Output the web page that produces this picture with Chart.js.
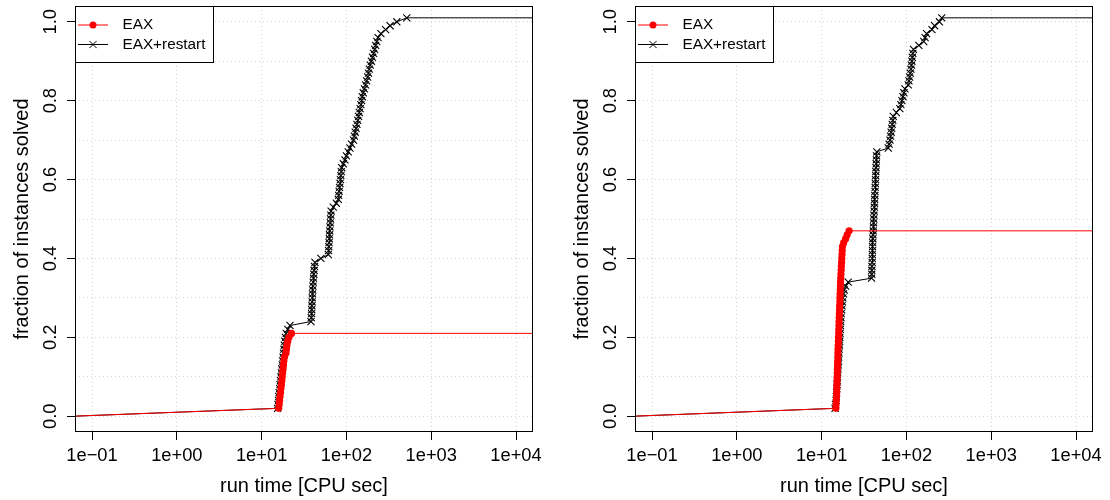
<!DOCTYPE html>
<html>
<head>
<meta charset="utf-8">
<script src="https://cdn.jsdelivr.net/npm/chart.js@4.4.0/dist/chart.umd.min.js"></script>
<style>
  html, body { margin: 0; padding: 0; background: #fff; overflow: hidden; }
  #wrap { position: relative; width: 1110px; height: 500px; }
  #wrap canvas { position: absolute; top: 0; }
</style>
</head>
<body>
<div id="wrap">
  <canvas id="panelA" width="555" height="500" style="left:0"></canvas>
  <canvas id="panelB" width="550" height="500" style="left:560px"></canvas>
</div>
<script>
// ---- data (run time in CPU sec, fraction of instances solved) ----
const seriesNames = ['EAX', 'EAX+restart'];

// left panel
const eaxTimeA = [0.06, 15.9, 16.1, 16.3, 16.5, 16.7, 16.9, 17.1, 17.3, 17.5, 17.7,
  17.9, 18.1, 18.3, 18.6, 19.4, 19.6, 19.9, 20.3, 21.0, 22.5, 16000];
const eaxFracA = [0, 0.02, 0.03, 0.04, 0.05, 0.06, 0.07, 0.08, 0.09, 0.10, 0.11,
  0.12, 0.13, 0.14, 0.15, 0.16, 0.17, 0.18, 0.19, 0.20, 0.21, 0.21];

const restartTimeA = [0.06,
  15.4, 15.6, 15.8, 15.9, 16.1, 16.3, 16.5, 16.7, 16.9, 17.1, 17.3, 17.5, 17.7, 17.9, 18.1,
  18.3, 18.5, 18.8, 19.1, 19.5, 20.4, 21.6,
  38.2, 38.5, 38.8, 39.0, 39.2, 39.4, 39.6, 39.8, 40.0, 40.3, 40.6, 40.9, 41.2, 41.6, 42.0, 42.6,
  50, 61.1,
  61.6, 62.0, 62.4, 62.8, 63.2, 63.6, 64.0, 64.5, 65.0, 65.5, 66.0,
  70, 76, 80.2, 81, 82, 83, 84, 85, 86, 87, 88,
  92, 96, 100, 105, 110, 115, 121,
  124, 127, 130, 133, 136, 139, 142, 145, 148, 151, 154,
  158, 163, 168, 173, 178, 182, 186, 191, 197, 203, 209, 215, 221, 228, 236,
  255, 290, 327, 393, 515,
  16000];

// right panel
const eaxTimeB = [0.06,
  14.7, 14.8, 14.9, 15.0, 15.05, 15.1, 15.15, 15.2, 15.25, 15.3, 15.35, 15.4, 15.45, 15.5,
  15.55, 15.6, 15.7, 15.75, 15.8, 15.9, 15.95, 16.0, 16.05, 16.1, 16.2, 16.25, 16.3, 16.4,
  16.45, 16.5, 16.6, 16.65, 16.7, 16.8, 16.9, 17.0, 17.1, 17.2, 17.3, 17.4, 17.5, 17.6,
  18.2, 19.2, 20.0, 21.1,
  16000];
const eaxFracB = [0,
  0.02, 0.03, 0.04, 0.05, 0.06, 0.07, 0.08, 0.09, 0.10, 0.11, 0.12, 0.13, 0.14, 0.15,
  0.16, 0.17, 0.18, 0.19, 0.20, 0.21, 0.22, 0.23, 0.24, 0.25, 0.26, 0.27, 0.28, 0.29,
  0.30, 0.31, 0.32, 0.33, 0.34, 0.35, 0.36, 0.37, 0.38, 0.39, 0.40, 0.41, 0.42, 0.43,
  0.44, 0.45, 0.46, 0.47,
  0.47];

const restartTimeB = [0.06,
  14.4, 14.6, 14.8, 14.9, 15.0, 15.1, 15.2, 15.3, 15.4, 15.5, 15.6, 15.7, 15.8, 15.9, 16.0,
  16.1, 16.2, 16.3, 16.4, 16.5, 16.6, 16.7, 16.8, 16.9, 17.0, 17.2, 17.4, 17.6, 17.8, 18.1,
  18.5, 19.2, 20.6,
  38.8, 39.0, 39.1, 39.2, 39.4, 39.5, 39.6, 39.8, 39.9, 40.0, 40.2, 40.4, 40.6, 40.8, 41.0,
  41.2, 41.4, 41.6, 41.8, 42.0, 42.2, 42.4, 42.6, 42.8, 43.0, 43.2, 43.4, 43.6, 43.8, 44.0,
  44.2, 44.4, 44.8,
  61.0, 62.5, 64.0, 65.0, 66.0, 67.0, 68.0, 69.0, 70.0,
  76, 83.7, 86, 88.5, 91, 93.5, 96,
  105, 107, 109, 111, 113, 114.5, 116, 117.5, 119, 121,
  140, 160, 166, 173, 200, 215, 245, 261,
  16000];

// both restart curves share the same fraction steps
const restartFrac = [0,
  0.02, 0.03, 0.04, 0.05, 0.06, 0.07, 0.08, 0.09, 0.10, 0.11, 0.12, 0.13, 0.14, 0.15, 0.16,
  0.17, 0.18, 0.19, 0.20, 0.21, 0.22, 0.23, 0.24, 0.25, 0.26, 0.27, 0.28, 0.29, 0.30, 0.31,
  0.32, 0.33, 0.34, 0.35, 0.36, 0.37, 0.38, 0.39, 0.40, 0.41, 0.42, 0.43, 0.44, 0.45, 0.46,
  0.47, 0.48, 0.49, 0.50, 0.51, 0.52, 0.53, 0.54, 0.55, 0.56, 0.57, 0.58, 0.59, 0.60, 0.61,
  0.62, 0.63, 0.64, 0.65, 0.66, 0.67, 0.68, 0.69, 0.70, 0.71, 0.72, 0.73, 0.74, 0.75, 0.76,
  0.77, 0.78, 0.79, 0.80, 0.81, 0.82, 0.83, 0.84, 0.85, 0.86, 0.87, 0.88, 0.89, 0.90, 0.91,
  0.92, 0.93, 0.94, 0.95, 0.96, 0.97, 0.98, 0.99, 1.00, 1.01,
  1.01];

// axes
const xTickValues = [0.1, 1, 10, 100, 1000, 10000];
const xTickLabels = ['1e\u221201', '1e+00', '1e+01', '1e+02', '1e+03', '1e+04'];
const yGridValues = [0, 0.1, 0.2, 0.3, 0.4, 0.5, 0.6, 0.7, 0.8, 0.9, 1.0];
const yTickValues = [0, 0.2, 0.4, 0.6, 0.8, 1.0];
const yTickLabels = ['0.0', '0.2', '0.4', '0.6', '0.8', '1.0'];
const xTitle = 'run time [CPU sec]';
const yTitle = 'fraction of instances solved';

const FONT = '"Liberation Sans", Arial, sans-serif';
const RED = '#ff0000';

const toPoints = (xs, ys) => xs.map((x, i) => ({ x: x, y: ys[i] }));
// the two ends only carry the line to the plot border, no marker
const markerRadius = r => c => (c.dataIndex === 0 || c.dataIndex === c.dataset.data.length - 1) ? 0 : r;

function drawCross(ctx, x, y, r) {
  ctx.beginPath();
  ctx.moveTo(x - r, y - r); ctx.lineTo(x + r, y + r);
  ctx.moveTo(x - r, y + r); ctx.lineTo(x + r, y - r);
  ctx.stroke();
}

// R-like frame: box, rotated y labels, titles, legend in the top-left corner
const rFrame = {
  id: 'rFrame',
  afterDraw(chart) {
    const { ctx, chartArea: a, scales: { x, y } } = chart;
    ctx.save();
    ctx.strokeStyle = '#000';
    ctx.lineWidth = 1;
    ctx.strokeRect(Math.round(a.left) + 0.5, Math.round(a.top) + 0.5,
      Math.round(a.right - a.left) - 1, Math.round(a.bottom - a.top) - 1);

    ctx.fillStyle = '#000';
    ctx.font = '18.3px ' + FONT;
    ctx.textAlign = 'center';
    ctx.textBaseline = 'alphabetic';
    xTickValues.forEach((v, i) => {
      ctx.fillText(xTickLabels[i], x.getPixelForValue(v), a.bottom + 29);
    });
    yTickValues.forEach((v, i) => {
      ctx.save();
      ctx.translate(a.left - 19, y.getPixelForValue(v));
      ctx.rotate(-Math.PI / 2);
      ctx.fillText(yTickLabels[i], 0, 0);
      ctx.restore();
    });

    ctx.font = '20px ' + FONT;
    ctx.fillText(xTitle, (a.left + a.right) / 2, a.bottom + 59.5);
    ctx.save();
    ctx.translate(a.left - 47, (a.top + a.bottom) / 2);
    ctx.rotate(-Math.PI / 2);
    ctx.fillText(yTitle, 0, 0);
    ctx.restore();

    // legend
    const lx = Math.round(a.left), ly = Math.round(a.top);
    ctx.fillStyle = '#fff';
    ctx.fillRect(lx, ly, 138, 56);
    ctx.strokeStyle = '#000';
    ctx.strokeRect(lx + 0.5, ly + 0.5, 138, 56);
    const rows = [ly + 19, ly + 38.5];
    ctx.lineWidth = 1;
    // EAX
    ctx.strokeStyle = RED;
    ctx.beginPath(); ctx.moveTo(lx + 3, rows[0]); ctx.lineTo(lx + 33, rows[0]); ctx.stroke();
    ctx.fillStyle = RED;
    ctx.beginPath(); ctx.arc(lx + 18, rows[0], 3.5, 0, Math.PI * 2); ctx.fill();
    // EAX+restart
    ctx.strokeStyle = '#000';
    ctx.beginPath(); ctx.moveTo(lx + 3, rows[1]); ctx.lineTo(lx + 33, rows[1]); ctx.stroke();
    drawCross(ctx, lx + 18, rows[1], 3.6);
    ctx.fillStyle = '#000';
    ctx.font = '15.3px ' + FONT;
    ctx.textAlign = 'left';
    ctx.textBaseline = 'middle';
    ctx.fillText(seriesNames[0], lx + 47.5, rows[0]);
    ctx.fillText(seriesNames[1], lx + 47.5, rows[1]);
    ctx.restore();
  }
};

function makePanel(id, eaxTime, eaxFrac, rstTime, rstFrac, padRight) {
  return new Chart(document.getElementById(id), {
    type: 'scatter',
    data: {
      datasets: [
        {
          label: seriesNames[0],
          data: toPoints(eaxTime, eaxFrac),
          showLine: true,
          borderColor: RED,
          borderWidth: 1,
          pointStyle: 'circle',
          pointRadius: markerRadius(3.6),
          pointBackgroundColor: RED,
          pointBorderWidth: 0
        },
        {
          label: seriesNames[1],
          data: toPoints(rstTime, rstFrac),
          showLine: true,
          borderColor: '#000',
          borderWidth: 1,
          pointStyle: 'crossRot',
          pointRadius: markerRadius(5),
          pointBorderColor: '#000',
          pointBorderWidth: 1.1
        }
      ]
    },
    options: {
      responsive: false,
      animation: false,
      events: [],
      layout: { padding: { left: 0, right: padRight, top: 6, bottom: 0 } },
      plugins: { legend: { display: false }, tooltip: { enabled: false } },
      scales: {
        x: {
          type: 'logarithmic',
          min: 0.063,
          max: 15850,
          afterBuildTicks: s => { s.ticks = xTickValues.map(v => ({ value: v })); },
          afterFit: s => { s.height = 68; },
          ticks: { display: false },
          grid: { color: '#d3d3d3', lineWidth: 1, tickLength: 8, tickColor: '#000', tickWidth: 1 },
          border: { display: false, dash: [1, 3] }
        },
        y: {
          type: 'linear',
          min: -0.04,
          max: 1.04,
          afterBuildTicks: s => { s.ticks = yGridValues.map(v => ({ value: v })); },
          afterFit: s => { s.width = 75; },
          ticks: { display: false },
          grid: {
            color: '#d3d3d3', lineWidth: 1, tickLength: 8, tickWidth: 1,
            tickColor: c => (Math.round(c.tick.value * 10) % 2 === 0) ? '#000' : 'rgba(0,0,0,0)'
          },
          border: { display: false, dash: [1, 3] }
        }
      }
    },
    plugins: [rFrame]
  });
}

makePanel('panelA', eaxTimeA, eaxFracA, restartTimeA, restartFrac, 22);
makePanel('panelB', eaxTimeB, eaxFracB, restartTimeB, restartFrac, 17);
</script>
</body>
</html>
